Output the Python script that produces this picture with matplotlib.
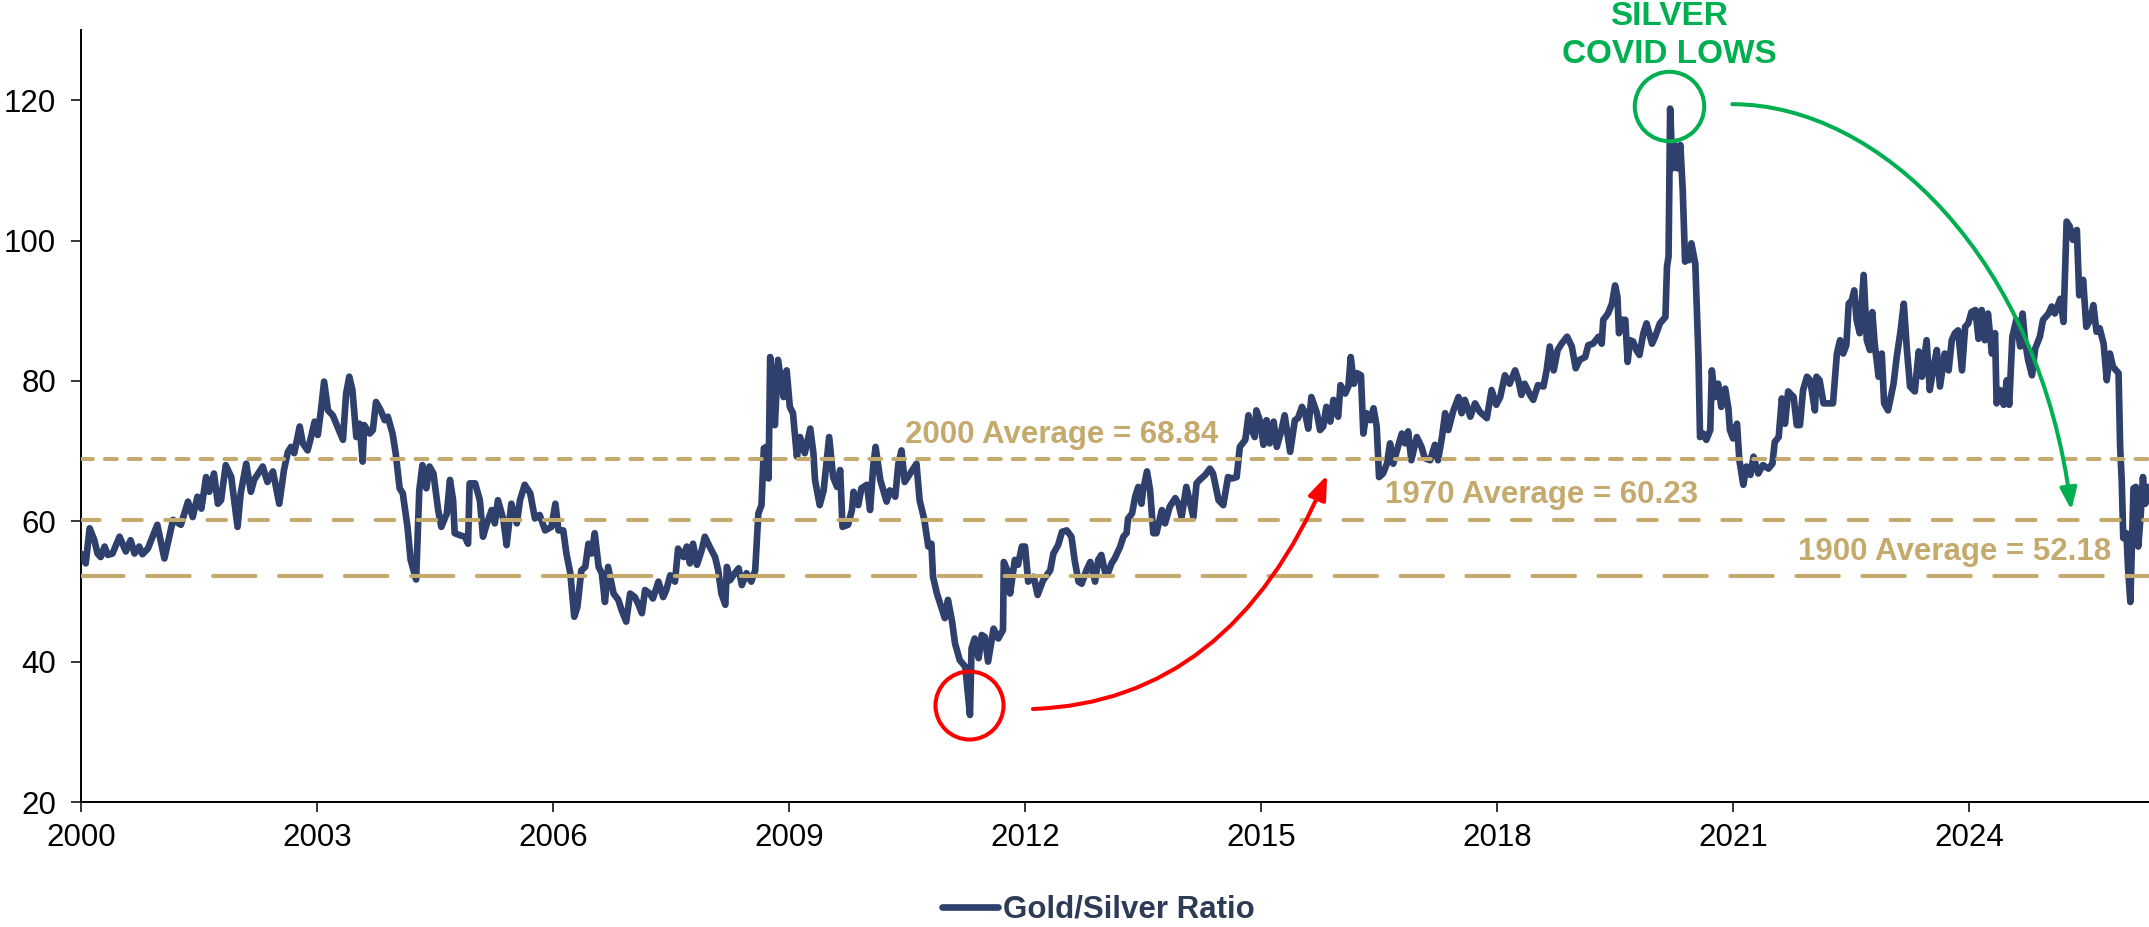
import matplotlib
matplotlib.use('Agg')
import matplotlib.pyplot as plt
from matplotlib.path import Path
from matplotlib.patches import FancyArrowPatch, ArrowStyle
from matplotlib.lines import Line2D

# ---------------- data ----------------
years = [
    2000.00, 2000.06, 2000.11, 2000.17, 2000.21, 2000.25, 2000.30, 2000.34, 2000.40, 2000.49,
    2000.57, 2000.63, 2000.68, 2000.74, 2000.78, 2000.85, 2000.97, 2001.06, 2001.17, 2001.27,
    2001.36, 2001.42, 2001.48, 2001.53, 2001.59, 2001.63, 2001.69, 2001.74, 2001.78, 2001.84,
    2001.91, 2001.99, 2002.03, 2002.10, 2002.16, 2002.20, 2002.31, 2002.37, 2002.44, 2002.52,
    2002.58, 2002.63, 2002.67, 2002.71, 2002.78, 2002.82, 2002.88, 2002.92, 2002.97, 2003.01,
    2003.05, 2003.09, 2003.14, 2003.20, 2003.26, 2003.33, 2003.37, 2003.41, 2003.45, 2003.50,
    2003.54, 2003.58, 2003.60, 2003.67, 2003.71, 2003.75, 2003.81, 2003.86, 2003.90, 2003.96,
    2004.00, 2004.05, 2004.09, 2004.15, 2004.19, 2004.26, 2004.30, 2004.34, 2004.39, 2004.43,
    2004.48, 2004.54, 2004.58, 2004.65, 2004.69, 2004.73, 2004.75, 2004.82, 2004.88, 2004.92,
    2004.94, 2005.01, 2005.07, 2005.11, 2005.16, 2005.22, 2005.26, 2005.30, 2005.37, 2005.41,
    2005.47, 2005.54, 2005.58, 2005.64, 2005.71, 2005.77, 2005.83, 2005.90, 2005.98, 2006.03,
    2006.07, 2006.13, 2006.17, 2006.22, 2006.27, 2006.31, 2006.36, 2006.41, 2006.45, 2006.49,
    2006.53, 2006.58, 2006.62, 2006.66, 2006.70, 2006.77, 2006.83, 2006.87, 2006.93, 2006.98,
    2007.04, 2007.08, 2007.13, 2007.17, 2007.23, 2007.27, 2007.34, 2007.40, 2007.44, 2007.49,
    2007.55, 2007.59, 2007.66, 2007.70, 2007.74, 2007.78, 2007.83, 2007.89, 2007.93, 2007.99,
    2008.06, 2008.10, 2008.14, 2008.19, 2008.21, 2008.25, 2008.31, 2008.36, 2008.40, 2008.46,
    2008.52, 2008.57, 2008.61, 2008.65, 2008.68, 2008.71, 2008.74, 2008.76, 2008.80, 2008.82,
    2008.86, 2008.93, 2008.97, 2009.01, 2009.05, 2009.10, 2009.14, 2009.20, 2009.27, 2009.31,
    2009.33, 2009.39, 2009.44, 2009.48, 2009.51, 2009.56, 2009.61, 2009.65, 2009.68, 2009.75,
    2009.80, 2009.82, 2009.88, 2009.92, 2009.99, 2010.03, 2010.07, 2010.10, 2010.16, 2010.24,
    2010.28, 2010.35, 2010.39, 2010.43, 2010.47, 2010.54, 2010.62, 2010.66, 2010.72, 2010.77,
    2010.81, 2010.83, 2010.88, 2010.92, 2010.98, 2011.02, 2011.07, 2011.11, 2011.17, 2011.24,
    2011.30, 2011.32, 2011.36, 2011.41, 2011.45, 2011.49, 2011.53, 2011.60, 2011.66, 2011.72,
    2011.73, 2011.79, 2011.81, 2011.87, 2011.91, 2011.96, 2012.00, 2012.04, 2012.11, 2012.16,
    2012.23, 2012.32, 2012.36, 2012.42, 2012.47, 2012.53, 2012.59, 2012.63, 2012.68, 2012.72,
    2012.78, 2012.83, 2012.89, 2012.93, 2012.97, 2013.02, 2013.06, 2013.10, 2013.14, 2013.21,
    2013.25, 2013.29, 2013.31, 2013.36, 2013.40, 2013.44, 2013.48, 2013.50, 2013.55, 2013.59,
    2013.63, 2013.67, 2013.74, 2013.78, 2013.84, 2013.91, 2013.95, 2013.99, 2014.05, 2014.10,
    2014.14, 2014.18, 2014.22, 2014.29, 2014.35, 2014.39, 2014.46, 2014.52, 2014.58, 2014.63,
    2014.69, 2014.73, 2014.80, 2014.84, 2014.88, 2014.92, 2014.94, 2014.99, 2015.03, 2015.07,
    2015.11, 2015.16, 2015.20, 2015.26, 2015.30, 2015.37, 2015.43, 2015.47, 2015.52, 2015.56,
    2015.60, 2015.64, 2015.71, 2015.75, 2015.79, 2015.83, 2015.88, 2015.92, 2015.98, 2016.01,
    2016.07, 2016.11, 2016.14, 2016.18, 2016.22, 2016.27, 2016.30, 2016.34, 2016.39, 2016.43,
    2016.47, 2016.50, 2016.55, 2016.60, 2016.64, 2016.68, 2016.74, 2016.79, 2016.83, 2016.87,
    2016.91, 2016.98, 2017.04, 2017.08, 2017.15, 2017.21, 2017.25, 2017.30, 2017.34, 2017.38,
    2017.44, 2017.51, 2017.55, 2017.59, 2017.66, 2017.72, 2017.78, 2017.83, 2017.87, 2017.93,
    2017.99, 2018.04, 2018.10, 2018.16, 2018.23, 2018.27, 2018.31, 2018.35, 2018.42, 2018.46,
    2018.52, 2018.59, 2018.63, 2018.67, 2018.72, 2018.77, 2018.82, 2018.89, 2018.95, 2019.00,
    2019.05, 2019.12, 2019.16, 2019.22, 2019.29, 2019.33, 2019.35, 2019.41, 2019.46, 2019.50,
    2019.53, 2019.55, 2019.58, 2019.63, 2019.66, 2019.69, 2019.73, 2019.77, 2019.81, 2019.86,
    2019.90, 2019.97, 2020.01, 2020.07, 2020.14, 2020.16, 2020.18, 2020.20, 2020.23, 2020.26,
    2020.29, 2020.33, 2020.36, 2020.39, 2020.41, 2020.44, 2020.47, 2020.52, 2020.56, 2020.58,
    2020.62, 2020.66, 2020.71, 2020.73, 2020.77, 2020.81, 2020.85, 2020.90, 2020.94, 2020.96,
    2021.00, 2021.05, 2021.08, 2021.13, 2021.17, 2021.22, 2021.26, 2021.32, 2021.38, 2021.45,
    2021.50, 2021.53, 2021.58, 2021.62, 2021.66, 2021.70, 2021.77, 2021.81, 2021.85, 2021.89,
    2021.94, 2021.98, 2022.04, 2022.06, 2022.10, 2022.15, 2022.21, 2022.27, 2022.32, 2022.36,
    2022.40, 2022.44, 2022.47, 2022.51, 2022.54, 2022.57, 2022.61, 2022.66, 2022.70, 2022.74,
    2022.77, 2022.80, 2022.85, 2022.89, 2022.92, 2022.97, 2023.04, 2023.08, 2023.13, 2023.17,
    2023.21, 2023.25, 2023.31, 2023.36, 2023.40, 2023.46, 2023.50, 2023.55, 2023.59, 2023.63,
    2023.69, 2023.74, 2023.78, 2023.82, 2023.86, 2023.91, 2023.95, 2023.99, 2024.03, 2024.08,
    2024.12, 2024.16, 2024.20, 2024.24, 2024.29, 2024.33, 2024.35, 2024.39, 2024.44, 2024.48,
    2024.51, 2024.55, 2024.60, 2024.65, 2024.68, 2024.71, 2024.75, 2024.80, 2024.84, 2024.90,
    2024.94, 2025.01, 2025.05, 2025.09, 2025.16, 2025.20, 2025.24, 2025.28, 2025.32, 2025.37,
    2025.40, 2025.45, 2025.49, 2025.54, 2025.58, 2025.62, 2025.66, 2025.71, 2025.75, 2025.79,
    2025.83, 2025.90, 2025.92, 2025.94, 2025.96, 2026.00, 2026.02, 2026.05, 2026.09, 2026.12,
    2026.15, 2026.18, 2026.21, 2026.24, 2026.28,
]

ratio = [
    55.4, 54.0, 59.0, 57.3, 55.4, 54.9, 56.4, 55.2, 55.4, 57.8,
    55.7, 57.3, 55.4, 56.4, 55.3, 56.1, 59.5, 54.7, 60.2, 59.5,
    62.8, 60.6, 63.5, 61.8, 66.3, 64.2, 66.8, 62.5, 63.0, 68.0,
    66.3, 59.2, 64.0, 68.2, 64.2, 65.9, 67.8, 65.6, 67.1, 62.5,
    67.3, 69.9, 70.6, 69.7, 73.5, 71.1, 70.1, 71.8, 74.2, 72.3,
    75.8, 79.9, 75.8, 75.1, 73.5, 71.6, 78.2, 80.6, 78.7, 72.0,
    73.9, 68.5, 73.7, 72.5, 73.0, 77.0, 75.8, 74.4, 74.9, 72.5,
    69.7, 64.7, 64.0, 59.2, 54.5, 51.7, 64.4, 68.0, 64.7, 67.8,
    66.8, 61.6, 59.2, 61.1, 65.9, 63.0, 58.3, 58.0, 57.8, 56.8,
    65.4, 65.4, 63.0, 57.8, 59.7, 61.6, 59.7, 63.0, 60.2, 56.6,
    62.5, 59.7, 63.0, 65.2, 64.0, 60.4, 60.9, 58.7, 59.2, 62.5,
    58.7, 58.7, 55.4, 52.6, 46.4, 47.8, 53.0, 53.5, 56.8, 55.4,
    58.3, 53.5, 52.6, 48.5, 53.5, 49.7, 48.8, 47.4, 45.7, 49.7,
    49.2, 48.3, 46.9, 50.2, 49.7, 49.0, 51.4, 49.2, 50.2, 52.3,
    51.4, 56.1, 54.9, 56.4, 54.0, 56.8, 53.8, 55.9, 57.8, 56.4,
    54.9, 53.0, 49.7, 48.1, 53.5, 51.6, 52.6, 53.3, 50.9, 52.6,
    51.4, 53.0, 61.1, 62.3, 70.4, 70.6, 66.1, 83.4, 79.2, 73.7,
    83.0, 77.7, 81.5, 76.3, 75.4, 69.2, 72.0, 69.7, 73.2, 69.7,
    65.9, 62.3, 64.4, 68.7, 72.0, 66.3, 64.9, 67.3, 59.2, 59.5,
    61.6, 64.2, 62.3, 64.7, 65.2, 61.6, 67.8, 70.6, 65.9, 62.8,
    64.4, 63.5, 68.2, 70.1, 65.6, 66.8, 68.2, 63.0, 60.2, 56.4,
    56.8, 52.1, 49.7, 48.3, 46.2, 48.8, 45.9, 42.6, 40.2, 39.3,
    32.4, 41.9, 43.3, 40.5, 43.8, 43.5, 40.0, 44.7, 43.3, 44.5,
    54.2, 52.6, 49.7, 54.5, 53.8, 56.4, 56.4, 51.4, 52.1, 49.5,
    51.6, 53.0, 55.4, 56.6, 58.5, 58.7, 57.8, 54.5, 51.4, 51.1,
    53.0, 54.2, 51.4, 54.5, 55.2, 52.6, 52.8, 54.0, 54.7, 56.4,
    57.8, 58.3, 60.4, 61.1, 63.5, 64.9, 62.5, 64.4, 67.1, 64.4,
    58.3, 58.3, 61.6, 59.7, 62.1, 63.3, 62.5, 60.6, 64.9, 62.5,
    60.6, 65.4, 65.9, 66.6, 67.5, 66.8, 63.0, 62.3, 66.3, 66.1,
    66.3, 70.6, 71.6, 75.1, 73.0, 72.0, 75.8, 74.2, 70.9, 74.4,
    71.1, 74.2, 70.6, 73.0, 75.1, 69.9, 74.4, 74.7, 76.3, 75.4,
    73.2, 77.7, 75.4, 73.0, 73.5, 76.3, 74.2, 77.3, 74.9, 79.4,
    78.2, 79.2, 83.4, 79.6, 81.1, 80.8, 72.5, 75.4, 74.4, 76.1,
    73.5, 66.3, 66.8, 68.2, 71.1, 68.2, 70.6, 72.5, 71.1, 72.8,
    68.7, 72.0, 70.6, 69.0, 68.7, 70.9, 68.7, 72.0, 75.4, 73.0,
    75.6, 77.7, 75.4, 77.3, 74.9, 76.8, 75.6, 75.1, 74.7, 78.7,
    76.6, 77.7, 80.8, 79.6, 81.5, 80.1, 78.0, 79.6, 78.0, 77.3,
    79.4, 79.2, 81.5, 84.9, 81.5, 84.4, 85.3, 86.3, 84.9, 81.8,
    83.0, 83.4, 85.1, 85.3, 86.3, 85.3, 88.7, 89.6, 91.0, 93.6,
    92.0, 86.8, 88.7, 88.7, 82.7, 85.8, 85.6, 84.4, 83.7, 86.8,
    88.2, 85.3, 86.3, 88.2, 89.1, 96.3, 97.7, 118.8, 110.3, 113.6,
    110.3, 113.6, 107.2, 97.0, 98.6, 97.2, 99.6, 96.7, 83.4, 72.0,
    72.5, 71.6, 73.0, 81.5, 77.7, 79.6, 76.3, 78.9, 76.1, 73.0,
    71.8, 73.9, 68.7, 65.2, 67.8, 66.6, 69.2, 66.8, 68.0, 67.5,
    68.2, 71.3, 72.0, 77.5, 73.9, 78.5, 77.7, 73.7, 73.7, 78.7,
    80.6, 80.1, 75.8, 80.6, 80.1, 76.8, 76.8, 76.8, 83.9, 85.8,
    83.9, 85.1, 91.0, 91.5, 92.9, 88.7, 86.8, 95.1, 85.8, 84.4,
    89.8, 85.3, 80.6, 83.9, 76.8, 75.8, 79.6, 83.4, 87.2, 91.0,
    84.4, 79.2, 78.5, 84.2, 80.6, 85.8, 78.7, 82.0, 84.4, 79.2,
    83.9, 81.5, 85.8, 86.8, 87.2, 81.5, 87.7, 88.2, 89.8, 90.1,
    86.0, 90.1, 85.8, 89.6, 83.9, 86.8, 76.8, 78.7, 76.6, 80.1,
    76.6, 86.3, 88.7, 84.9, 89.6, 85.8, 83.0, 80.8, 84.6, 86.3,
    88.7, 89.6, 90.6, 89.6, 91.7, 88.4, 102.7, 102.0, 100.1, 101.5,
    92.2, 94.4, 87.7, 88.7, 90.8, 87.0, 87.5, 85.3, 80.1, 83.9,
    82.0, 81.1, 70.6, 65.9, 57.6, 58.3, 53.5, 48.5, 64.7, 64.9,
    56.4, 60.6, 66.3, 62.5, 64.9,
]

series_label = "Gold/Silver Ratio"
avg_values = [68.84, 60.23, 52.18]
avg_labels = ["2000 Average = 68.84", "1970 Average = 60.23", "1900 Average = 52.18"]
# label centre (year) and baseline (value)
avg_label_pos = [(2012.46, 71.10), (2018.57, 62.55), (2023.82, 54.47)]

x_ticks = [2000, 2003, 2006, 2009, 2012, 2015, 2018, 2021, 2024]
y_ticks = [20, 40, 60, 80, 100, 120]

# annotation geometry (data coords)
red_circle = (2011.29, 33.85)
red_arrow = [(2012.10, 33.25), (2014.61, 34.25), (2015.84, 66.58)]
green_circle = (2020.19, 119.15)
green_arrow = [(2020.99, 119.43), (2022.87, 119.43), (2024.90, 97.2), (2025.30, 61.6)]
green_text = [("SILVER", 130.68), ("COVID LOWS", 125.3)]
green_text_x = 2020.19

# ---------------- style ----------------
NAVY = '#2E406B'
TAN = '#C4AA6C'
GREEN = '#00B050'
RED = '#FF0000'
LEGEND_TXT = '#2E3B55'

plt.rcParams['font.family'] = ['Liberation Sans', 'DejaVu Sans']
plt.rcParams['lines.scale_dashes'] = False

W, H = 2149, 927
fig = plt.figure(figsize=(W / 100, H / 100), dpi=100)
ax = fig.add_axes([81 / W, 1 - 802 / H, (W - 81) / W, 772 / H])

ax.plot(years, ratio, color=NAVY, lw=4.8, solid_joinstyle='round',
        solid_capstyle='round', zorder=3, label=series_label)

dash_specs = [(0, (8.6, 8.6)), (0, (13.5, 16.8)), (0, (30.7, 16.8))]
for v, ds in zip(avg_values, dash_specs):
    ax.axhline(v, color=TAN, lw=2.9, linestyle=ds, dash_capstyle='round', zorder=4)

for lab, (lx, ly) in zip(avg_labels, avg_label_pos):
    ax.text(lx, ly, lab, color=TAN, fontsize=22.5, fontweight='bold',
            ha='center', va='baseline', zorder=5)

ax.set_xlim(2000, 2000 + (W - 81) / 78.67)
ax.set_ylim(20, 130)
ax.set_xticks(x_ticks)
ax.set_xticklabels([str(t) for t in x_ticks])
ax.set_yticks(y_ticks)
ax.set_yticklabels([str(t) for t in y_ticks])
ax.tick_params(axis='both', direction='out', length=7, width=1.1, labelsize=22.5,
               colors='black')
ax.tick_params(axis='x', pad=8)
ax.tick_params(axis='y', pad=11)
for s in ('top', 'right'):
    ax.spines[s].set_visible(False)
for s in ('left', 'bottom'):
    ax.spines[s].set_linewidth(1.4)
    ax.spines[s].set_color('black')

# circles
ax.plot([red_circle[0]], [red_circle[1]], marker='o', ms=49, mfc='none',
        mec=RED, mew=2.9, zorder=6, clip_on=False)
ax.plot([green_circle[0]], [green_circle[1]], marker='o', ms=50, mfc='none',
        mec=GREEN, mew=2.9, zorder=6, clip_on=False)

# arrows
rp = Path(red_arrow, [Path.MOVETO, Path.CURVE3, Path.CURVE3])
ax.add_patch(FancyArrowPatch(path=rp, arrowstyle=ArrowStyle('-|>', head_length=1.45, head_width=0.55),
                             mutation_scale=10, color=RED, lw=2.9, zorder=6, clip_on=False))
gp = Path(green_arrow, [Path.MOVETO, Path.CURVE4, Path.CURVE4, Path.CURVE4])
ax.add_patch(FancyArrowPatch(path=gp, arrowstyle=ArrowStyle('-|>', head_length=1.3, head_width=0.5),
                             mutation_scale=10, color=GREEN, lw=2.9, zorder=6, clip_on=False))

for txt, ty in green_text:
    ax.text(green_text_x, ty, txt, color=GREEN, fontsize=24, fontweight='bold',
            ha='center', va='baseline', clip_on=False, zorder=7)

handle = Line2D([], [], color=NAVY, lw=4.8, solid_capstyle='round')
leg = fig.legend(handles=[handle], labels=[series_label], loc='center',
                 bbox_to_anchor=(1098 / W, 1 - 910 / H), frameon=False,
                 prop={'weight': 'bold', 'size': 22.5}, handlelength=1.8,
                 handletextpad=0.15, borderpad=0, borderaxespad=0)
for t in leg.get_texts():
    t.set_color(LEGEND_TXT)

fig.savefig('out.png', dpi=100)
